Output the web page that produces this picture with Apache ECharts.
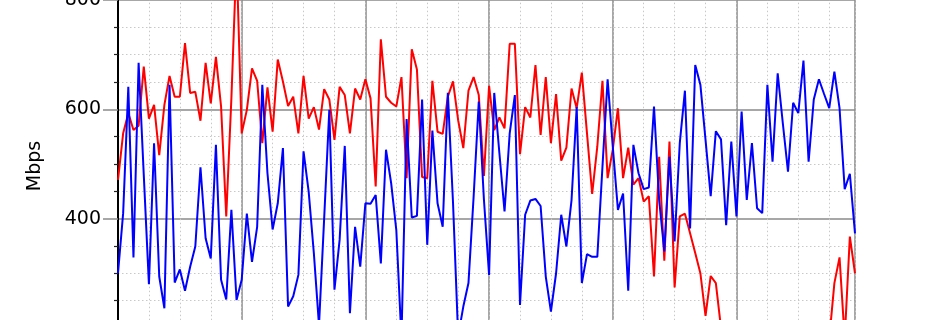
<!DOCTYPE html>
<html>
<head>
<meta charset="utf-8">
<script src="https://cdn.jsdelivr.net/npm/echarts@6/dist/echarts.min.js"></script>
<style>
html,body{margin:0;padding:0;background:#fff;width:950px;height:320px;overflow:hidden;position:relative;}
#c{position:absolute;left:0;top:-120px;width:950px;height:700px;}
</style>
</head>
<body>
<div id="c"></div>
<script>
// Red series (Mbps), one value per hour-slot 0..143
const redValues = [
471,556,593,562,570,678,583,608,516,608,661,623,623,721,630,632,579,685,611,696,
605,404,620,880,556,599,675,652,538,640,559,691,651,606,623,556,661,583,604,563,
637,618,544,641,626,556,638,618,655,620,459,728,623,612,605,659,474,710,673,476,
474,652,559,555,623,651,580,529,634,659,626,478,643,562,585,565,720,720,518,604,
585,681,553,659,538,628,506,530,638,602,667,556,445,532,652,474,526,602,474,530,
462,474,431,441,294,513,323,541,274,404,409,373,337,300,222,295,282,200,185,170,
160,175,150,165,180,170,155,160,175,185,165,150,170,180,160,175,190,180,180,282,
329,180,367,300
];
// Blue series (Mbps)
const blueValues = [
300,410,641,329,685,480,280,538,294,236,645,283,307,268,312,349,494,364,327,535,
288,252,416,251,288,409,321,385,645,483,380,428,529,239,258,297,523,449,337,205,
400,599,270,361,533,227,385,312,428,427,443,318,526,465,379,180,582,402,405,618,
352,561,428,385,630,430,185,239,282,440,614,435,297,630,520,413,556,626,242,407,
433,436,423,294,230,300,407,349,434,604,282,335,330,330,495,655,532,416,446,268,
535,483,454,457,605,434,340,513,358,538,634,382,681,645,544,441,560,545,388,541,
404,596,434,538,419,410,645,504,666,574,486,612,593,689,504,618,655,628,602,669,
602,454,482,373
];
// Visible y tick labels
const yTickValues = [400, 600, 800];
const yTickLabels = ['400', '600', '800'];
const yAxisTitle = 'Mbps';

const pairs = vals => vals.map((v, i) => [i, v]);

const chart = echarts.init(document.getElementById('c'), null, {renderer: 'canvas'});
const font = 'DejaVu Sans';
chart.setOption({
  animation: false,
  backgroundColor: '#ffffff',
  grid: {left: 118, right: 95, top: 10.7, height: 546.5, containLabel: false, outerBoundsMode: 'none'},
  xAxis: [
    {
      type: 'value', min: 0, max: 143, interval: 24,
      axisLine: {show: true, lineStyle: {color: '#000', width: 2}},
      axisTick: {show: false}, axisLabel: {show: false},
      splitLine: {show: true, lineStyle: {color: '#8a8a8a', width: 1.5}}
    },
    {
      type: 'value', min: 0, max: 143, interval: 6, position: 'top',
      axisLine: {show: false}, axisTick: {show: false}, axisLabel: {show: false},
      splitLine: {show: true, lineStyle: {color: '#c8c8c8', width: 1, type: [1.5, 2.5]}}
    }
  ],
  yAxis: [
    {
      type: 'value', min: 0, max: 1000, interval: 200,
      axisLine: {show: true, lineStyle: {color: '#222', width: 2}},
      axisTick: {show: true, length: 15, lineStyle: {color: '#8a8a8a', width: 1.5}},
      minorTick: {show: true, splitNumber: 4, length: 4, lineStyle: {color: '#222', width: 1.2}},
      axisLabel: {
        show: true, margin: 17, color: '#000', fontFamily: font, fontSize: 19,
        formatter: v => { const k = yTickValues.indexOf(Math.round(v)); return k >= 0 ? yTickLabels[k] : ''; }
      },
      splitLine: {show: true, lineStyle: {color: '#8a8a8a', width: 1.5}},
      minorSplitLine: {show: true, lineStyle: {color: '#c8c8c8', width: 1, type: [1.5, 2.5]}}
    },
    {
      type: 'value', min: 0, max: 1000, interval: 200, position: 'right',
      axisLine: {show: true, lineStyle: {color: '#000', width: 2}},
      axisTick: {show: false}, axisLabel: {show: false}, splitLine: {show: false}
    }
  ],
  graphic: [{
    type: 'text', x: 35, y: 286, rotation: Math.PI / 2,
    style: {text: yAxisTitle, fill: '#000', font: '19px "DejaVu Sans"',
            textAlign: 'center', textVerticalAlign: 'middle', align: 'center', verticalAlign: 'middle'}
  }],
  series: [
    {
      type: 'line', data: pairs(redValues), xAxisIndex: 0, yAxisIndex: 0,
      showSymbol: false, symbol: 'none', clip: true, z: 3,
      lineStyle: {color: '#ff0000', width: 2}
    },
    {
      type: 'line', data: pairs(blueValues), xAxisIndex: 0, yAxisIndex: 0,
      showSymbol: false, symbol: 'none', clip: true, z: 4,
      lineStyle: {color: '#0000ff', width: 2}
    }
  ]
});
</script>
</body>
</html>
